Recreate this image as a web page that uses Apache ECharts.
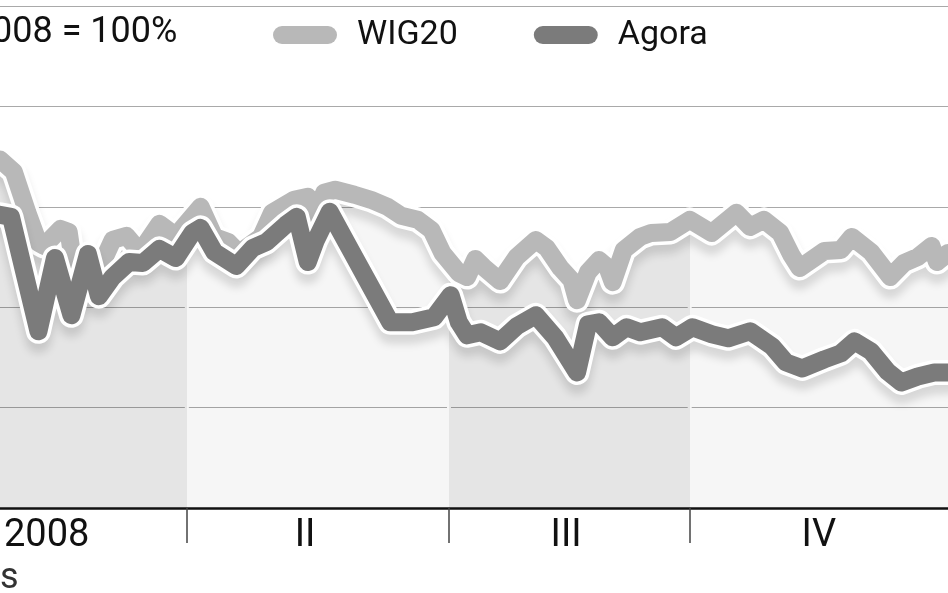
<!DOCTYPE html>
<html><head><meta charset="utf-8">
<script src="https://cdn.jsdelivr.net/npm/echarts@6/dist/echarts.min.js"></script>
<style>html,body{margin:0;padding:0;background:#fff}#c{width:948px;height:593px}</style>
</head><body><div id="c"></div>
<script>
// day of year 2008 and index value (%)
const wigDays = [23,28,33,37,39,45,48,51,56,59,64,69,74,81,87,96,101,106,110,118,122,130,135,137,141,145,152,158,164,169,175,180,184,190,193,196,199,205,211,218,222,227,231,233,237,241,244,246,250,256,260,267,274,282,291,296,301,307,311,314,323,329,333,340,347,352,357,362,364,368];
const wigVals = [84.7,83.5,79.4,76.4,76.1,77.8,77.5,71.8,73.4,73.7,76.7,77.1,75.5,78.3,77.1,80.0,77.0,76.5,75.4,77.0,79.4,80.7,81.0,78.8,81.4,81.7,81.2,80.7,80.0,79.1,78.7,77.7,75.4,73.4,73.0,74.8,74.0,72.6,75.0,76.7,75.9,73.9,72.7,70.7,73.5,74.7,74.0,72.5,75.7,77.0,77.4,77.5,78.7,77.4,79.4,78.0,78.7,77.4,75.2,73.9,75.6,75.7,77.0,75.5,73.0,74.4,75.0,76.1,74.5,75.4];
const agoraDays = [23,27,37,43,49,55,59,64,70,75,81,87,93,96,101,109,115,120,127,131,135,138,143,151,158,165,173,181,187,190,193,198,205,211,218,225,233,237,241,246,251,256,264,269,275,282,288,296,304,309,315,323,329,334,340,346,351,357,363,368];
const agoraVals = [79.2,79.0,67.6,74.9,69.2,75.3,71.1,73.0,74.5,74.4,75.8,74.9,77.4,77.9,75.5,74.1,75.9,76.5,78.2,79.0,74.5,76.7,79.5,75.5,72.0,68.5,68.5,69.0,71.2,68.5,67.2,67.5,66.6,68.1,69.2,67.0,63.5,68.3,68.5,67.0,68.0,67.5,68.0,67.0,68.0,67.3,66.9,67.6,66.1,64.5,63.9,64.8,65.4,66.6,65.6,63.6,62.5,63.1,63.5,63.5];
const quarterStarts = [91, 186.4, 274];
const quarterStripTops = [77.5, 74, 77.5];
const quarterLabelDays = [40, 134, 229, 321];
const quarterLabels = ['2008', 'II', 'III', 'IV'];
const seriesNames = ['WIG20', 'Agora'];
const baseNote = '008 = 100%';
const sourceNote = 's';

const wig = wigDays.map((d, i) => [d, wigVals[i]]);
const agora = agoraDays.map((d, i) => [d, agoraVals[i]]);
const FONT = 'Roboto, "Noto Sans", sans-serif';
const DARK = 'rgba(0,0,0,0.10)', LIGHT = 'rgba(0,0,0,0.035)';

const chart = echarts.init(document.getElementById('c'), null, {renderer: 'canvas'});
chart.setOption({
  animation: false,
  backgroundColor: '#fff',
  grid: {left: 0, right: 0, top: 6, bottom: 85},
  xAxis: {
    type: 'value', min: 23, max: 368, z: 10,
    axisLine: {show: true, lineStyle: {color: '#111', width: 2.5}},
    axisTick: {show: true, customValues: quarterStarts, length: 35, lineStyle: {color: '#444', width: 1.5}},
    axisLabel: {customValues: quarterLabelDays, formatter: v => quarterLabels[quarterLabelDays.indexOf(v)],
      fontFamily: FONT, fontSize: 38, color: '#111', margin: 9},
    splitLine: {show: false}
  },
  yAxis: {
    type: 'value', min: 50, max: 100, interval: 10,
    axisLabel: {show: false}, axisLine: {show: false}, axisTick: {show: false},
    splitLine: {lineStyle: {color: '#a9a9a9', width: 1}}
  },
  visualMap: {
    type: 'piecewise', show: false, dimension: 0, seriesIndex: 0,
    pieces: [
      {lt: quarterStarts[0], color: DARK},
      {gte: quarterStarts[0], lt: quarterStarts[1], color: LIGHT},
      {gte: quarterStarts[1], lt: quarterStarts[2], color: DARK},
      {gte: quarterStarts[2], color: LIGHT}
    ]
  },
  legend: {
    data: seriesNames, left: 273, top: 18, padding: 0, itemGap: 76,
    itemWidth: 64, itemHeight: 18,
    icon: 'path://M9,0L55,0A9,9,0,0,1,55,18L9,18A9,9,0,0,1,9,0Z',
    itemStyle: {borderWidth: 0},
    textStyle: {fontFamily: FONT, fontSize: 34, color: '#111', padding: [0, 0, 0, 15]}
  },
  graphic: [
    {type: 'text', x: -8, y: 33, style: {text: baseNote, font: '36px ' + FONT, fill: '#111', verticalAlign: 'middle'}},
    {type: 'text', x: 0, y: 579, style: {text: sourceNote, font: '36px ' + FONT, fill: '#333', verticalAlign: 'middle'}}
  ],
  series: [
    {name: 'band', type: 'line', data: wig, symbol: 'none', silent: true,
      lineStyle: {width: 0}, areaStyle: {opacity: 1}},
    {name: 'strips', type: 'bar', data: quarterStarts.map((d, i) => [d, quarterStripTops[i]]), barWidth: 4, silent: true,
      itemStyle: {color: '#fff'}},
    {name: 'wigHalo', type: 'line', data: wig, symbol: 'none', silent: true,
      lineStyle: {color: '#fff', width: 25, join: 'round', cap: 'round',
        shadowColor: 'rgba(0,0,0,0.13)', shadowBlur: 8, shadowOffsetY: 9}},
    {name: seriesNames[0], type: 'line', data: wig, symbol: 'none', color: '#b8b8b8',
      lineStyle: {color: '#b8b8b8', width: 18, join: 'round', cap: 'round'}},
    {name: 'agoraHalo', type: 'line', data: agora, symbol: 'none', silent: true,
      lineStyle: {color: '#fff', width: 25, join: 'round', cap: 'round',
        shadowColor: 'rgba(0,0,0,0.13)', shadowBlur: 8, shadowOffsetY: 9}},
    {name: seriesNames[1], type: 'line', data: agora, symbol: 'none', color: '#7b7b7b',
      lineStyle: {color: '#7b7b7b', width: 18, join: 'round', cap: 'round'}}
  ]
});
</script></body></html>
